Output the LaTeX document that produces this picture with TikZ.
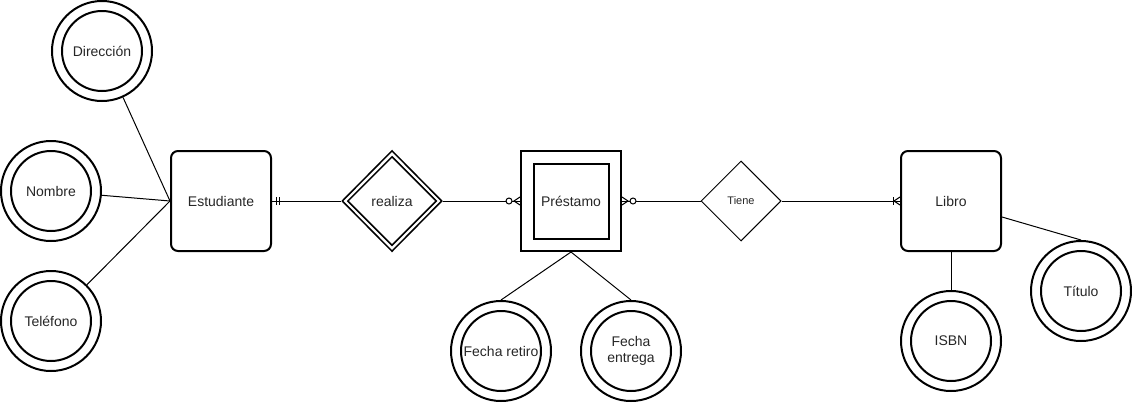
\documentclass[tikz,border=0pt]{standalone}
\usepackage{fontspec}
\setmainfont{Liberation Sans}
\usetikzlibrary{shapes.geometric}
\begin{document}
\begin{tikzpicture}[x=1pt,y=-1pt,
  every node/.style={font=\fontsize{14}{16}\selectfont, text=black!85},
  entity/.style={draw, line width=2pt, rounded corners=7pt, minimum width=100pt, minimum height=100pt, inner sep=0pt},
  weak/.style={draw, line width=2pt, minimum width=100pt, minimum height=100pt, inner sep=0pt},
  weakin/.style={draw, line width=2pt, minimum width=75pt, minimum height=75pt, inner sep=0pt},
  attr/.style={draw, circle, line width=2pt, minimum size=100pt, inner sep=0pt},
  attrin/.style={line width=2pt},
  rel/.style={draw, diamond, line width=1pt, minimum width=80pt, minimum height=80pt, inner sep=0pt},
  idrel/.style={draw, diamond, line width=1.5pt, inner sep=0pt},
  conn/.style={line width=1pt}]
\useasboundingbox (0,0) rectangle (1132,402);

% entities
\node[entity] (est) at (221,201) {Estudiante};
\node[weak] (pre) at (571,201) {Préstamo};
\node[weakin] (pre-in) at (571,201) {};
\node[entity] (lib) at (951,201) {Libro};

% relationships
\node[idrel, minimum width=100pt, minimum height=101pt] (rea) at (392,201) {realiza};
\node[idrel, minimum width=89pt, minimum height=89pt] (rea-in) at (392,201) {};
\node[rel, font=\fontsize{11}{13}\selectfont] (tie) at (741,201) {Tiene};

% attributes
\node[attr] (dir) at (102,51) {Dirección};
\node[attr] (nom) at (51,191) {Nombre};
\node[attr] (tel) at (51,321) {Teléfono};
\node[attr] (fr) at (501,351) {Fecha retiro};
\node[attr, align=center] (fe) at (631,351) {Fecha\\entrega};
\node[attr] (isbn) at (951,341) {ISBN};
\node[attr] (tit) at (1081,291) {Título};
\foreach \n in {dir,nom,tel,fr,fe,isbn,tit}
  \draw[attrin] (\n.center) circle[radius=40pt];

% attribute links
\draw[conn] (dir) -- (est.west);
\draw[conn] (nom) -- (est.west);
\draw[conn] (tel) -- (est.west);
\draw[conn] (pre.south) -- (fr.north);
\draw[conn] (pre.south) -- (fe.north);
\draw[conn] (lib.south) -- (isbn.north);
\coordinate (lib-t) at ([yshift=-16pt]lib.east);
\draw[conn] (lib-t) -- (tit.north);

% Estudiante -- realiza (mandatory one)
\draw[conn] (est.east) -- (rea.west);
\draw[conn] ([xshift=4pt]est.east) ++(0,-4) -- ++(0,8);
\draw[conn] ([xshift=7pt]est.east) ++(0,-4) -- ++(0,8);

% realiza -- Prestamo (zero or many)
\draw[conn] (rea.east) -- (pre.west);
\draw[conn] ([yshift=4pt]pre.west) -- ([xshift=-6pt]pre.west) -- ([yshift=-4pt]pre.west);
\draw[conn, fill=white] ([xshift=-11pt]pre.west) circle[radius=3pt];

% Prestamo -- Tiene (zero or many)
\draw[conn] (pre.east) -- (tie.west);
\draw[conn] ([yshift=4pt]pre.east) -- ([xshift=6pt]pre.east) -- ([yshift=-4pt]pre.east);
\draw[conn, fill=white] ([xshift=11pt]pre.east) circle[radius=3pt];

% Tiene -- Libro (one or many)
\draw[conn] (tie.east) -- (lib.west);
\draw[conn] ([yshift=4pt]lib.west) -- ([xshift=-6pt]lib.west) -- ([yshift=-4pt]lib.west);
\draw[conn] ([xshift=-7pt]lib.west) ++(0,-4) -- ++(0,8);
\end{tikzpicture}
\end{document}
